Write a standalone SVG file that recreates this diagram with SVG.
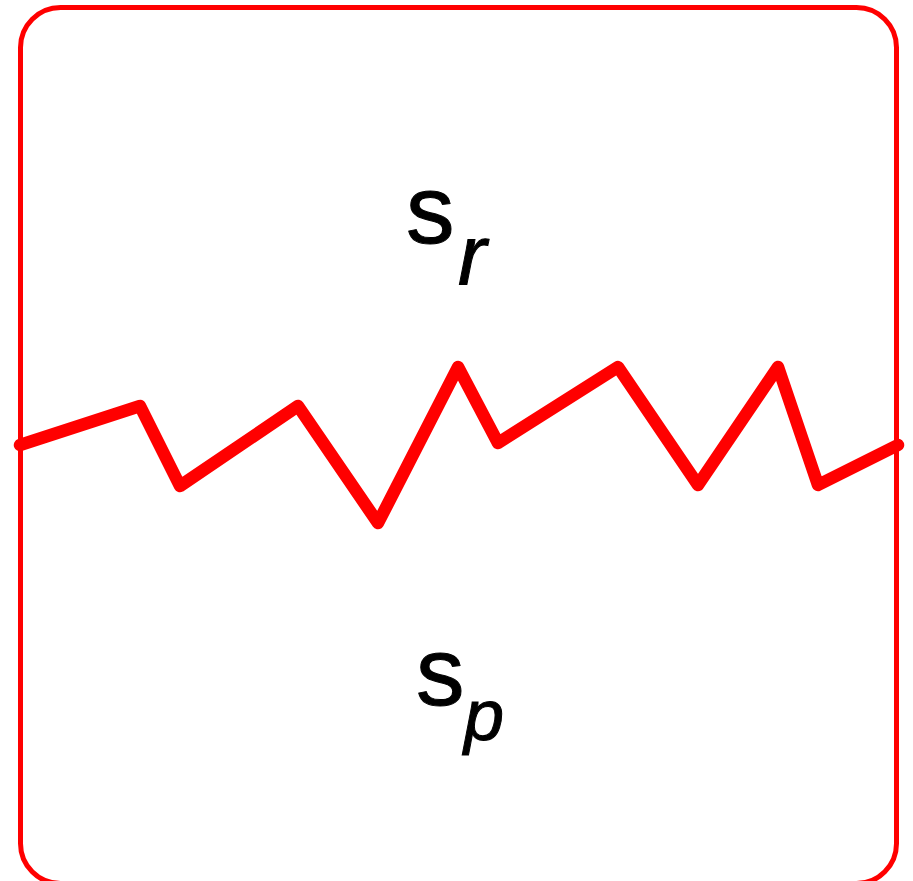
<svg xmlns="http://www.w3.org/2000/svg" width="913" height="881" viewBox="0 0 913 881">
<style>
.frame{fill:none;stroke:#ff0000;stroke-width:5}
.zig{fill:none;stroke:#ff0000;stroke-width:12.5;stroke-linejoin:round;stroke-linecap:round}
.lbl{font-family:"Liberation Sans",Arial,sans-serif;fill:#000;stroke:#000;stroke-width:1}
.sub{font-style:italic}
</style>
<rect width="913" height="881" fill="#fff"/>
<g id="frame"><rect class="frame" x="20.5" y="7.5" width="876" height="876" rx="40" ry="40"/></g>
<g id="connectors">
<polyline class="zig" points="20,445 140,406 180,486 298,406 378,523 458,367 498,443 618,367 698,485 778,367 818,485 898,445"/>
</g>
<g id="label-sr"><text class="lbl" x="406" y="243" font-size="97">s<tspan class="sub" x="458" y="285" font-size="85">r</tspan></text></g>
<g id="label-sp"><text class="lbl" x="416" y="705" font-size="97">s<tspan class="sub" x="464" y="740" font-size="72">p</tspan></text></g>
</svg>
